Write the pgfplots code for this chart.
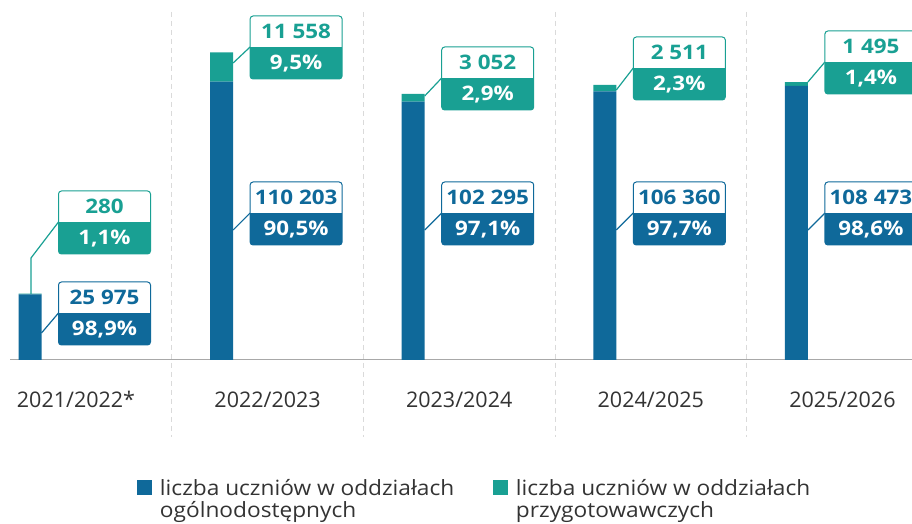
\documentclass[border=0pt]{standalone}
\usepackage{fontspec}
\setmainfont{Open Sans}
\newfontfamily\boxfont[FakeStretch=1.12]{Open Sans}
\newfontfamily\legfont[FakeStretch=1.08]{Open Sans}
\usepackage{pgfplots}
\pgfplotsset{compat=1.18}
\definecolor{cblue}{HTML}{0F699A}
\definecolor{cteal}{HTML}{19A093}
\definecolor{sepc}{HTML}{DADADA}
\definecolor{basec}{HTML}{A8A8A8}
\definecolor{txt}{HTML}{333333}

\newcommand\lbox[5]{%
 \begin{scope}[shift={(#1)}, xshift=-17.5pt, yshift=#2]
  \fill[white, rounded corners=3pt] (0pt,-32pt) rectangle (92pt,31pt);
  \begin{scope}
   \clip[rounded corners=3pt] (0pt,-32pt) rectangle (92pt,31pt);
   \fill[#3] (0pt,-32pt) rectangle (92pt,0pt);
  \end{scope}
  \draw[#3, line width=1pt, rounded corners=3pt] (0pt,-32pt) rectangle (92pt,31pt);
  \node[anchor=base, inner sep=0pt, text=#3, font=\boxfont\bfseries\fontsize{20}{20}\selectfont] at (46pt,8.5pt) {#4};
  \node[anchor=base, inner sep=0pt, text=white, font=\boxfont\bfseries\fontsize{20}{20}\selectfont] at (46pt,-23pt) {#5};
 \end{scope}}

\begin{document}
\begin{tikzpicture}
\useasboundingbox (0,0) rectangle (912pt,524pt);
\begin{axis}[
  at={(10pt,164pt)}, anchor=south west,
  scale only axis, width=902pt, height=360pt,
  xmin=-0.34447, xmax=4.36326, ymin=0, ymax=142500,
  clip=false,
  axis y line=none, axis x line=bottom,
  x axis line style={-, draw=basec, line width=1pt},
  xtick={0,1,2,3,4},
  xticklabels={2021/2022*,2022/2023,2023/2024,2024/2025,2025/2026},
  major tick length=0pt,
  xticklabel style={font=\fontsize{21.5}{21.5}\selectfont, text=txt, anchor=base, yshift=-48pt, inner sep=0pt},
  ybar stacked, bar width=23pt, bar shift=-46pt,
  legend columns=2,
  legend image code/.code={\fill[#1] (0pt,0pt) rectangle (15pt,15pt);},
  legend style={at={(0.1408,-0.3250)}, anchor=north west, draw=none, fill=none,
    inner sep=0pt, outer sep=0pt, column sep=6pt, row sep=0pt,
    font=\legfont\fontsize{21}{20.5}\selectfont, text=txt, cells={anchor=base west}},
]
\addplot[fill=cblue, draw=none] coordinates {(0,25975) (1,110203) (2,102295) (3,106360) (4,108473)};
\addlegendentry{\makebox[325pt][l]{\begin{tabular}[t]{@{}l@{}}liczba uczniów w oddziałach\\ogólnodostępnych\end{tabular}}}
\addplot[fill=cteal, draw=none] coordinates {(0,280) (1,11558) (2,3052) (3,2511) (4,1495)};
\addlegendentry{\begin{tabular}[t]{@{}l@{}}liczba uczniów w oddziałach\\przygotowawczych\end{tabular}}
\coordinate (b0) at (axis cs:0,0);
\coordinate (b1) at (axis cs:1,0);
\coordinate (b2) at (axis cs:2,0);
\coordinate (b3) at (axis cs:3,0);
\coordinate (b4) at (axis cs:4,0);
\coordinate (s0) at (axis cs:0.5,0);
\coordinate (s1) at (axis cs:1.5,0);
\coordinate (s2) at (axis cs:2.5,0);
\coordinate (s3) at (axis cs:3.5,0);
\end{axis}
\foreach \s in {s0,s1,s2,s3}
  \draw[sepc, dash pattern=on 5pt off 4pt, line width=1pt] ([yshift=348pt]\s) -- ([yshift=-77pt]\s);
% connectors
\draw[cteal, line width=1.2pt] ([xshift=-45pt,yshift=66pt]b0) -- ([xshift=-45pt,yshift=102pt]b0) -- ([xshift=-17.5pt,yshift=138pt]b0);
\draw[cblue, line width=1.2pt] ([xshift=-34.5pt,yshift=27pt]b0) -- ([xshift=-17.5pt,yshift=47pt]b0);
\draw[cteal, line width=1.2pt] ([xshift=-34.5pt,yshift=297pt]b1) -- ([xshift=-17.5pt,yshift=313pt]b1);
\draw[cblue, line width=1.2pt] ([xshift=-34.5pt,yshift=130pt]b1) -- ([xshift=-17.5pt,yshift=147pt]b1);
\draw[cteal, line width=1.2pt] ([xshift=-34.5pt,yshift=264pt]b2) -- ([xshift=-17.5pt,yshift=282pt]b2);
\draw[cblue, line width=1.2pt] ([xshift=-34.5pt,yshift=130pt]b2) -- ([xshift=-17.5pt,yshift=147pt]b2);
\draw[cteal, line width=1.2pt] ([xshift=-34.5pt,yshift=270pt]b3) -- ([xshift=-17.5pt,yshift=292pt]b3);
\draw[cblue, line width=1.2pt] ([xshift=-34.5pt,yshift=130pt]b3) -- ([xshift=-17.5pt,yshift=147pt]b3);
\draw[cteal, line width=1.2pt] ([xshift=-34.5pt,yshift=278pt]b4) -- ([xshift=-17.5pt,yshift=298pt]b4);
\draw[cblue, line width=1.2pt] ([xshift=-34.5pt,yshift=130pt]b4) -- ([xshift=-17.5pt,yshift=147pt]b4);
% boxes
\lbox{b0}{138pt}{cteal}{280}{1,1\%}
\lbox{b0}{47pt}{cblue}{25 975}{98,9\%}
\lbox{b1}{313pt}{cteal}{11 558}{9,5\%}
\lbox{b1}{147pt}{cblue}{110 203}{90,5\%}
\lbox{b2}{282pt}{cteal}{3 052}{2,9\%}
\lbox{b2}{147pt}{cblue}{102 295}{97,1\%}
\lbox{b3}{292pt}{cteal}{2 511}{2,3\%}
\lbox{b3}{147pt}{cblue}{106 360}{97,7\%}
\lbox{b4}{298pt}{cteal}{1 495}{1,4\%}
\lbox{b4}{147pt}{cblue}{108 473}{98,6\%}
\end{tikzpicture}
\end{document}
